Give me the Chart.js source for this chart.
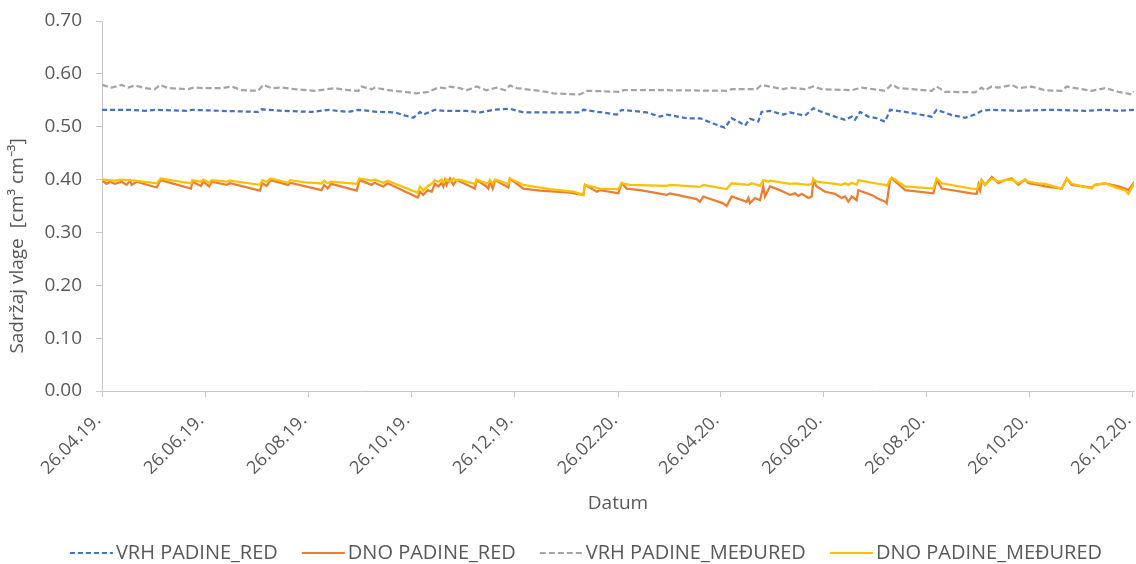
<!DOCTYPE html>
<html>
<head>
<meta charset="utf-8">
<script src="https://cdn.jsdelivr.net/npm/chart.js@4.4.1/dist/chart.umd.min.js"></script>
<style>
  html, body { margin: 0; padding: 0; background: #fff; }
</style>
</head>
<body>
<canvas id="moistureChart" width="1136" height="564"></canvas>
<script>
// Days counted from 26.04.2019, soil moisture in cm3 cm-3
const tickDays = [0, 61, 122, 183, 244, 306, 366, 427, 488, 549, 610];
const tickLabels = ['26.04.19.', '26.06.19.', '26.08.19.', '26.10.19.', '26.12.19.', '26.02.20.',
                    '26.04.20.', '26.06.20.', '26.08.20.', '26.10.20.', '26.12.20.'];

// VRH PADINE_RED
const vrhRedDays = [0, 15.6, 25.5, 31.4, 51.1, 53.1, 70.9, 92.5, 94.5, 106.4,
  124.1, 134, 145.9, 151.8, 163.6, 173.5, 179.4, 184.3, 186.3, 188.3,
  190.2, 197.1, 203.1, 215.9, 223.8, 231.7, 241.5, 249.4, 283, 285,
  304.8, 307.7, 322.5, 330.4, 334.3, 346.2, 354, 361.9, 368.8, 372.8,
  376.7, 380.7, 383.6, 388.6, 390.5, 395.5, 403.4, 407.3, 416.2, 421.2,
  426.1, 434, 439.9, 443.9, 445.8, 448.8, 453.7, 458.7, 463.6, 466.6,
  475.5, 491.2, 494.2, 503.1, 511, 516.9, 520.8, 526.8, 542.5, 562.3,
  582, 593.9, 601.8, 611];
const vrhRedValues = [0.532, 0.532, 0.530, 0.532, 0.530, 0.532, 0.530, 0.528, 0.533, 0.530,
  0.528, 0.532, 0.528, 0.532, 0.528, 0.527, 0.521, 0.517, 0.522, 0.528,
  0.523, 0.532, 0.530, 0.530, 0.527, 0.532, 0.534, 0.527, 0.527, 0.532,
  0.523, 0.532, 0.527, 0.519, 0.523, 0.516, 0.516, 0.506, 0.498, 0.516,
  0.510, 0.502, 0.515, 0.510, 0.528, 0.530, 0.523, 0.527, 0.521, 0.535,
  0.528, 0.519, 0.513, 0.519, 0.513, 0.528, 0.519, 0.516, 0.5095, 0.532,
  0.528, 0.519, 0.532, 0.522, 0.517, 0.523, 0.530, 0.532, 0.530, 0.532,
  0.530, 0.532, 0.530, 0.532];

// DNO PADINE_RED
const dnoRedDays = [0, 2.8, 4.7, 7.7, 11.6, 14.6, 16.6, 17.6, 20.5, 23.5,
  32.4, 34.7, 52.7, 53.5, 58.6, 60, 63.5, 64.9, 73.8, 75.8,
  93.5, 94.9, 97.5, 99.8, 110.3, 111.3, 130, 131.6, 133.6, 135.6,
  150.8, 152.4, 159.7, 161.2, 166.6, 169.1, 186.9, 188.3, 190.2, 192.8,
  195.2, 197.1, 199.1, 201.1, 202.1, 203.1, 204, 206, 208, 210,
  220.8, 221.8, 227.7, 228.7, 229.7, 231.3, 232.7, 240.6, 241.5, 249.4,
  259.4, 275.1, 285, 285.9, 292.9, 294.8, 305.7, 307.7, 310.7, 318.6,
  334.3, 336.3, 352.1, 354, 356, 367.8, 369.8, 372.8, 381.7, 382.7,
  383.6, 386.6, 389.6, 391.5, 392.5, 395.5, 401.4, 407.3, 410.3, 412.3,
  414.3, 418.2, 420.2, 421.2, 423.1, 428.1, 434, 437.9, 439.9, 441.9,
  443.9, 446.8, 447.8, 455.7, 458.7, 463.6, 464.6, 466.6, 467.6, 475.5,
  492.2, 494.2, 497.2, 514.9, 517.9, 518.9, 519.9, 520.8, 522.8, 526.8,
  530.7, 534.7, 538.6, 542.5, 546.5, 548.5, 554.4, 558.3, 568.2, 571.2,
  574.1, 586, 587.9, 593.9, 601.8, 605.7, 607.7, 610.6, 611];
const dnoRedValues = [0.398, 0.392, 0.396, 0.392, 0.396, 0.390, 0.398, 0.390, 0.396, 0.393,
  0.385, 0.399, 0.383, 0.396, 0.388, 0.396, 0.387, 0.396, 0.390, 0.393,
  0.379, 0.393, 0.388, 0.399, 0.390, 0.394, 0.380, 0.390, 0.383, 0.392,
  0.379, 0.399, 0.390, 0.394, 0.387, 0.393, 0.366, 0.377, 0.371, 0.380,
  0.377, 0.392, 0.387, 0.394, 0.387, 0.399, 0.390, 0.402, 0.390, 0.399,
  0.383, 0.399, 0.387, 0.383, 0.396, 0.383, 0.399, 0.385, 0.402, 0.383,
  0.379, 0.376, 0.371, 0.390, 0.377, 0.380, 0.374, 0.393, 0.383, 0.380,
  0.371, 0.374, 0.363, 0.358, 0.368, 0.355, 0.350, 0.368, 0.358, 0.365,
  0.355, 0.365, 0.361, 0.387, 0.368, 0.387, 0.380, 0.371, 0.374, 0.369,
  0.373, 0.365, 0.368, 0.399, 0.387, 0.377, 0.373, 0.365, 0.368, 0.358,
  0.368, 0.361, 0.380, 0.371, 0.365, 0.358, 0.355, 0.399, 0.402, 0.380,
  0.374, 0.400, 0.383, 0.374, 0.373, 0.390, 0.380, 0.399, 0.390, 0.405,
  0.393, 0.399, 0.402, 0.390, 0.400, 0.393, 0.390, 0.387, 0.383, 0.402,
  0.390, 0.385, 0.390, 0.393, 0.387, 0.383, 0.380, 0.393, 0.390];

// VRH PADINE_MEĐURED
const vrhMedDays = [0, 5.7, 11.6, 15.6, 19.5, 25.5, 31.4, 34.3, 39.3, 51.1,
  54.1, 61, 70.9, 76.8, 82.7, 92.5, 95.5, 100.5, 106.4, 114.3,
  126.1, 137.9, 145.9, 151.8, 153.7, 159.7, 161.6, 169.5, 181.4, 186.3,
  193.2, 199.1, 203.1, 206, 211.9, 215.9, 221.8, 227.7, 233.7, 238.6,
  241.5, 245.5, 263.3, 267.2, 283, 287, 306.7, 308.7, 334.3, 369.8,
  372.8, 387.6, 390.5, 395.5, 403.4, 407.3, 416.2, 421.2, 426.1, 443.9,
  449.8, 463.6, 467.6, 471.5, 491.2, 494.2, 499.1, 516.9, 520.8, 522.8,
  526.8, 530.7, 538.6, 542.5, 550.4, 558.3, 568.2, 571.2, 586, 593.9,
  601.8, 609.7, 611];
const vrhMedValues = [0.579, 0.574, 0.579, 0.574, 0.578, 0.573, 0.571, 0.579, 0.573, 0.571,
  0.574, 0.573, 0.573, 0.576, 0.569, 0.568, 0.579, 0.573, 0.574, 0.571,
  0.568, 0.573, 0.569, 0.568, 0.576, 0.571, 0.574, 0.569, 0.565, 0.563,
  0.566, 0.574, 0.573, 0.576, 0.573, 0.569, 0.576, 0.569, 0.574, 0.569,
  0.578, 0.573, 0.566, 0.563, 0.561, 0.568, 0.566, 0.569, 0.569, 0.568,
  0.571, 0.571, 0.579, 0.576, 0.571, 0.574, 0.571, 0.576, 0.571, 0.569,
  0.574, 0.568, 0.580, 0.573, 0.568, 0.576, 0.566, 0.565, 0.574, 0.569,
  0.576, 0.574, 0.579, 0.573, 0.576, 0.569, 0.568, 0.576, 0.568, 0.573,
  0.566, 0.561, 0.567];

// DNO PADINE_MEĐURED
const dnoMedDays = [0, 7.7, 11.6, 19.5, 32.4, 34.7, 52.7, 53.5, 58.6, 60,
  63.5, 64.9, 73.8, 75.8, 93.5, 94.9, 97.5, 99.8, 110.3, 111.3,
  122.2, 130, 131.6, 133.6, 135.6, 150.8, 152.4, 159.7, 161.2, 166.6,
  169.1, 186.9, 188.3, 190.2, 192.8, 195.2, 197.1, 199.1, 201.1, 202.1,
  204, 206, 208, 210, 211, 220.8, 221.8, 227.7, 228.7, 229.7,
  231.3, 232.7, 240.6, 241.5, 249.4, 265.2, 279, 285, 285.9, 294.8,
  305.7, 307.7, 312.6, 334.3, 336.3, 354, 356, 369.8, 372.8, 382.7,
  384.6, 389.6, 391.5, 394.5, 395.5, 407.3, 410.3, 418.2, 420.2, 421.2,
  423.1, 428.1, 434, 437.9, 439.9, 441.9, 443.9, 446.8, 447.8, 455.7,
  463.6, 464.6, 466.6, 467.6, 475.5, 492.2, 494.2, 497.2, 514.9, 517.9,
  519.9, 520.8, 522.8, 526.8, 530.7, 534.7, 538.6, 542.5, 546.5, 548.5,
  554.4, 558.3, 568.2, 571.2, 574.1, 586, 587.9, 593.9, 601.8, 605.7,
  607.7, 610.6, 611];
const dnoMedValues = [0.400, 0.398, 0.400, 0.398, 0.393, 0.402, 0.393, 0.399, 0.396, 0.400,
  0.394, 0.399, 0.396, 0.398, 0.390, 0.399, 0.396, 0.402, 0.394, 0.399,
  0.394, 0.393, 0.398, 0.393, 0.396, 0.392, 0.402, 0.398, 0.400, 0.394,
  0.398, 0.375, 0.387, 0.379, 0.388, 0.392, 0.399, 0.396, 0.400, 0.394,
  0.400, 0.396, 0.402, 0.398, 0.400, 0.392, 0.400, 0.393, 0.394, 0.399,
  0.392, 0.400, 0.392, 0.402, 0.390, 0.382, 0.377, 0.371, 0.390, 0.383,
  0.382, 0.393, 0.390, 0.388, 0.390, 0.386, 0.390, 0.382, 0.393, 0.390,
  0.393, 0.388, 0.399, 0.396, 0.398, 0.392, 0.393, 0.390, 0.392, 0.400,
  0.396, 0.394, 0.392, 0.390, 0.393, 0.390, 0.394, 0.390, 0.399, 0.394,
  0.390, 0.388, 0.400, 0.404, 0.387, 0.383, 0.402, 0.393, 0.383, 0.382,
  0.393, 0.399, 0.390, 0.402, 0.396, 0.399, 0.400, 0.393, 0.400, 0.396,
  0.393, 0.392, 0.383, 0.402, 0.392, 0.383, 0.390, 0.393, 0.383, 0.380,
  0.373, 0.390, 0.387];

const FONT = '"Open Sans", sans-serif';
const TEXT_COLOR = '#595959';
const AXIS_COLOR = '#C8C8C8';

function toPoints(days, values) {
    return days.map((d, i) => ({ x: d, y: values[i] }));
}

// Legend with short line samples, plus the rotated y axis title
const chartTexts = {
    id: 'chartTexts',
    afterDraw(chart) {
        const ctx = chart.ctx;
        const sets = chart.data.datasets;
        ctx.save();

        ctx.font = '20px ' + FONT;
        const sample = 43, textGap = 3, itemGap = 24;
        const widths = sets.map(ds => sample + textGap + ctx.measureText(ds.label).width);
        const total = widths.reduce((a, b) => a + b, 0) + itemGap * (sets.length - 1);
        let x = chart.width / 2 + 18 - total / 2;
        const y = 553;
        sets.forEach((ds, i) => {
            ctx.strokeStyle = ds.borderColor;
            ctx.lineWidth = 2;
            ctx.setLineDash(ds.borderDash || []);
            ctx.beginPath();
            ctx.moveTo(x, y);
            ctx.lineTo(x + sample, y);
            ctx.stroke();
            ctx.setLineDash([]);
            ctx.fillStyle = TEXT_COLOR;
            ctx.textAlign = 'left';
            ctx.textBaseline = 'middle';
            ctx.fillText(ds.label, x + sample + textGap, y);
            x += widths[i] + itemGap;
        });

        // y axis title
        ctx.translate(18, 246);
        ctx.rotate(-Math.PI / 2);
        ctx.font = '19px ' + FONT;
        ctx.textAlign = 'center';
        ctx.textBaseline = 'middle';
        ctx.fillStyle = TEXT_COLOR;
        ctx.fillText('Sadržaj vlage  [cm³ cm⁻³]', 0, 0);
        ctx.restore();
    }
};

const ctx = document.getElementById('moistureChart').getContext('2d');

new Chart(ctx, {
    type: 'line',
    data: {
        datasets: [
            {
                label: 'VRH PADINE_RED',
                data: toPoints(vrhRedDays, vrhRedValues),
                borderColor: '#4472C4',
                borderDash: [5, 3],
                order: 4
            },
            {
                label: 'DNO PADINE_RED',
                data: toPoints(dnoRedDays, dnoRedValues),
                borderColor: '#ED7D31',
                order: 3
            },
            {
                label: 'VRH PADINE_MEĐURED',
                data: toPoints(vrhMedDays, vrhMedValues),
                borderColor: '#A5A5A5',
                borderDash: [6, 3],
                order: 2
            },
            {
                label: 'DNO PADINE_MEĐURED',
                data: toPoints(dnoMedDays, dnoMedValues),
                borderColor: '#FFC000',
                order: 1
            }
        ]
    },
    options: {
        responsive: false,
        animation: false,
        devicePixelRatio: 1,
        elements: {
            line: { borderWidth: 2.25, tension: 0, fill: false },
            point: { radius: 0 }
        },
        layout: { padding: { left: 0, right: 2, top: 21, bottom: 40 } },
        scales: {
            x: {
                type: 'linear',
                min: 0,
                max: 611,
                afterBuildTicks(scale) {
                    scale.ticks = tickDays.map(v => ({ value: v }));
                },
                afterFit(scale) {
                    scale.height = 133;
                    scale.paddingLeft = 0;
                    scale.paddingRight = 0;
                },
                ticks: {
                    autoSkip: false,
                    minRotation: 45,
                    maxRotation: 45,
                    padding: 13,
                    labelOffset: -4,
                    color: TEXT_COLOR,
                    font: { family: FONT, size: 18 },
                    callback(value) {
                        const i = tickDays.indexOf(value);
                        return i >= 0 ? tickLabels[i] : '';
                    }
                },
                grid: {
                    drawOnChartArea: false,
                    tickLength: 6,
                    color: AXIS_COLOR
                },
                border: { color: AXIS_COLOR, width: 1 },
                title: {
                    display: true,
                    text: 'Datum',
                    color: TEXT_COLOR,
                    font: { family: FONT, size: 19 },
                    padding: { top: 0, bottom: 9 }
                }
            },
            y: {
                min: 0,
                max: 0.7,
                afterFit(scale) {
                    scale.width = 102;
                    scale.paddingTop = 0;
                    scale.paddingBottom = 0;
                },
                ticks: {
                    stepSize: 0.1,
                    padding: 14,
                    color: TEXT_COLOR,
                    font: { family: FONT, size: 19 },
                    callback: v => v.toFixed(2)
                },
                grid: {
                    drawOnChartArea: false,
                    tickLength: 6,
                    color: AXIS_COLOR
                },
                border: { color: AXIS_COLOR, width: 1 }
            }
        },
        plugins: {
            legend: { display: false },
            tooltip: { enabled: false }
        }
    },
    plugins: [chartTexts]
});
</script>
</body>
</html>
